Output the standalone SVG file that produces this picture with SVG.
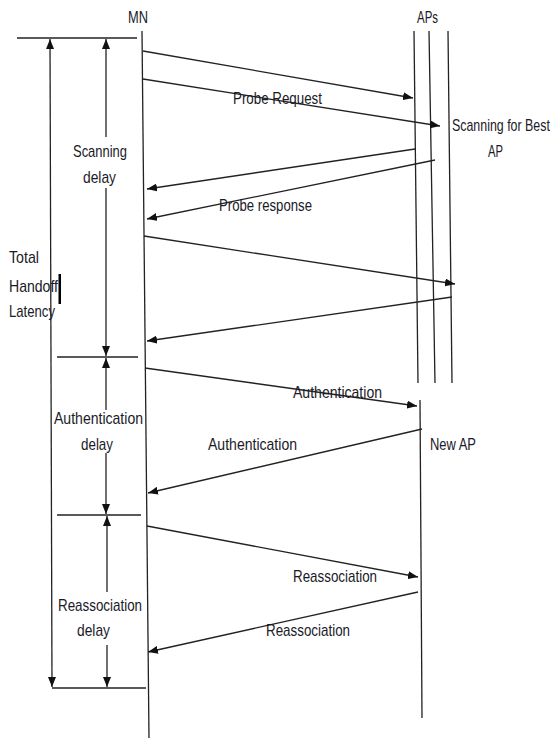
<svg xmlns="http://www.w3.org/2000/svg" width="556" height="740" viewBox="0 0 556 740">
<style>
.ln{stroke:#222;stroke-width:1.3;fill:none}
.ar{stroke:#222;stroke-width:1.3;fill:none;marker-end:url(#ah)}
.ar2{stroke:#222;stroke-width:1.3;fill:none;marker-end:url(#ah);marker-start:url(#ahs)}
text{font-family:"Liberation Sans",Arial,sans-serif;font-size:17px;fill:#1a1a28}
</style>
<defs>
<marker id="ah" markerUnits="userSpaceOnUse" markerWidth="10" markerHeight="8" refX="10" refY="4" orient="auto"><path d="M0,0 L10,4 L0,8 z" fill="#111"/></marker>
<marker id="ahs" markerUnits="userSpaceOnUse" markerWidth="10" markerHeight="8" refX="10" refY="4" orient="auto-start-reverse"><path d="M0,0 L10,4 L0,8 z" fill="#111"/></marker>
</defs>
<rect width="556" height="740" fill="#fff"/>
<g id="MN">
<text x="128" y="23" textLength="20" lengthAdjust="spacingAndGlyphs">MN</text>
<line class="ln" x1="142" y1="31" x2="149" y2="738"/>
</g>
<g id="APs">
<text x="417" y="23" textLength="21" lengthAdjust="spacingAndGlyphs">APs</text>
<line class="ln" x1="414" y1="31" x2="418" y2="383"/>
<line class="ln" x1="429" y1="31" x2="435" y2="383"/>
<line class="ln" x1="448" y1="31" x2="452" y2="383"/>
<text transform="matrix(0.73,0,0,1,452,131)" x="0" y="0">Scanning for Best</text>
<text x="488" y="157" textLength="15" lengthAdjust="spacingAndGlyphs">AP</text>
</g>
<g id="NewAP">
<line class="ln" x1="420" y1="400" x2="422" y2="718"/>
<text x="430" y="450" textLength="46" lengthAdjust="spacingAndGlyphs">New AP</text>
</g>
<g id="delays">
<line class="ln" x1="17" y1="38" x2="137" y2="38"/>
<line class="ln" x1="57" y1="357" x2="138" y2="357"/>
<line class="ln" x1="57" y1="515" x2="141" y2="515"/>
<line class="ln" x1="52" y1="688" x2="146" y2="688"/>
<line class="ar2" x1="50" y1="39" x2="52" y2="687"/>
<line class="ar" x1="106" y1="137" x2="106" y2="39"/>
<line class="ar" x1="106" y1="188" x2="106" y2="356"/>
<line class="ar" x1="106" y1="410" x2="106" y2="358"/>
<line class="ar" x1="106" y1="453" x2="106" y2="514"/>
<line class="ar" x1="107" y1="592" x2="107" y2="516"/>
<line class="ar" x1="107" y1="645" x2="107" y2="687"/>
<text x="73" y="157" textLength="54" lengthAdjust="spacingAndGlyphs">Scanning</text>
<text x="83" y="183" textLength="33" lengthAdjust="spacingAndGlyphs">delay</text>
<text x="54" y="424" textLength="89" lengthAdjust="spacingAndGlyphs">Authentication</text>
<text x="81" y="450" textLength="32" lengthAdjust="spacingAndGlyphs">delay</text>
<text x="58" y="611" textLength="84" lengthAdjust="spacingAndGlyphs">Reassociation</text>
<text x="77" y="636" textLength="33" lengthAdjust="spacingAndGlyphs">delay</text>
<text x="9" y="263" textLength="30" lengthAdjust="spacingAndGlyphs">Total</text>
<text x="9" y="292" textLength="49" lengthAdjust="spacingAndGlyphs">Handoff</text>
<text x="9" y="317" textLength="46" lengthAdjust="spacingAndGlyphs">Latency</text>
<rect x="58.5" y="274" width="2.5" height="30" fill="#000"/>
</g>
<g id="connectors">
<line class="ar" x1="143" y1="51" x2="413" y2="98"/>
<line class="ar" x1="143" y1="79" x2="440" y2="126"/>
<line class="ar" x1="415" y1="149" x2="147" y2="189"/>
<line class="ar" x1="435" y1="160" x2="147" y2="219"/>
<line class="ar" x1="144" y1="236" x2="455" y2="284"/>
<line class="ar" x1="452" y1="297" x2="147" y2="341"/>
<line class="ar" x1="145" y1="368" x2="417" y2="406"/>
<line class="ar" x1="422" y1="429" x2="148" y2="493"/>
<line class="ar" x1="147" y1="526" x2="418" y2="577"/>
<line class="ar" x1="418" y1="592" x2="148" y2="652"/>
<text x="233" y="104" textLength="89" lengthAdjust="spacingAndGlyphs">Probe Request</text>
<text x="219" y="211" textLength="93" lengthAdjust="spacingAndGlyphs">Probe response</text>
<text x="293" y="398" textLength="89" lengthAdjust="spacingAndGlyphs">Authentication</text>
<text x="208" y="450" textLength="89" lengthAdjust="spacingAndGlyphs">Authentication</text>
<text x="293" y="582" textLength="84" lengthAdjust="spacingAndGlyphs">Reassociation</text>
<text x="266" y="636" textLength="84" lengthAdjust="spacingAndGlyphs">Reassociation</text>
</g>
</svg>
